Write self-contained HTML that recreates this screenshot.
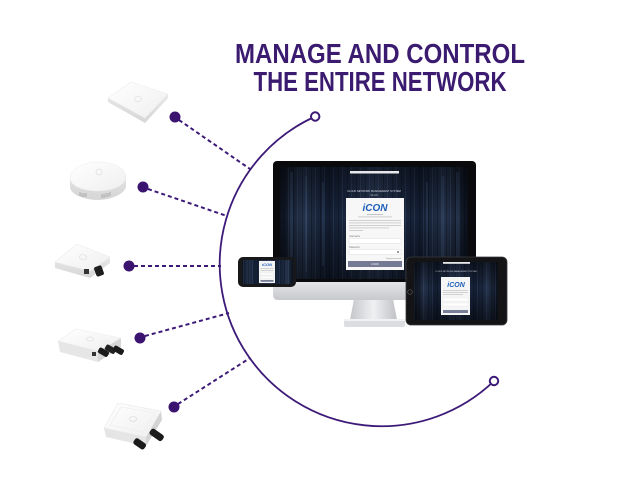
<!DOCTYPE html>
<html>
<head>
<meta charset="utf-8">
<style>
  html,body{margin:0;padding:0;background:#ffffff;}
  body{width:640px;height:480px;overflow:hidden;}
  svg{display:block;}
  text{font-family:"Liberation Sans",sans-serif;}
</style>
</head>
<body>
<svg width="640" height="480" viewBox="0 0 640 480" xmlns="http://www.w3.org/2000/svg">
  <defs>
    <linearGradient id="srv" x1="0" x2="1" y1="0" y2="0">
      <stop offset="0" stop-color="#0b111d"/>
      <stop offset="0.12" stop-color="#24324b"/>
      <stop offset="0.25" stop-color="#131e33"/>
      <stop offset="0.38" stop-color="#1c2942"/>
      <stop offset="0.5" stop-color="#2a3956"/>
      <stop offset="0.62" stop-color="#1c2942"/>
      <stop offset="0.75" stop-color="#131e33"/>
      <stop offset="0.88" stop-color="#24324b"/>
      <stop offset="1" stop-color="#0b111d"/>
    </linearGradient>
    <linearGradient id="srvV" x1="0" y1="0" x2="0" y2="1">
      <stop offset="0" stop-color="#000" stop-opacity="0.45"/>
      <stop offset="0.45" stop-color="#000" stop-opacity="0"/>
      <stop offset="1" stop-color="#000" stop-opacity="0.5"/>
    </linearGradient>
    <pattern id="rack" width="9" height="6" patternUnits="userSpaceOnUse">
      <rect width="1" height="6" fill="#6a82a4" opacity="0.18"/>
      <rect x="5" y="0" width="1" height="6" fill="#000" opacity="0.25"/>
    </pattern>
    <linearGradient id="chin" x1="0" y1="0" x2="0" y2="1">
      <stop offset="0" stop-color="#eceef0"/>
      <stop offset="1" stop-color="#c7c9cd"/>
    </linearGradient>
    <linearGradient id="neck" x1="0" y1="0" x2="1" y2="0">
      <stop offset="0" stop-color="#c4c6ca"/>
      <stop offset="0.5" stop-color="#eef0f2"/>
      <stop offset="1" stop-color="#bfc1c5"/>
    </linearGradient>
    <linearGradient id="apTop" x1="0" y1="0" x2="1" y2="1">
      <stop offset="0" stop-color="#ffffff"/>
      <stop offset="1" stop-color="#efefef"/>
    </linearGradient>
    <linearGradient id="apSide" x1="0" y1="0" x2="0" y2="1">
      <stop offset="0" stop-color="#e8e8e8"/>
      <stop offset="1" stop-color="#d6d6d6"/>
    </linearGradient>
  </defs>

  <!-- Title -->
  <text x="380" y="63" text-anchor="middle" font-size="28" font-weight="bold" fill="#3b1b70" textLength="290" lengthAdjust="spacingAndGlyphs">MANAGE AND CONTROL</text>
  <text x="380" y="91" text-anchor="middle" font-size="28" font-weight="bold" fill="#3b1b70" textLength="253" lengthAdjust="spacingAndGlyphs">THE ENTIRE NETWORK</text>

  <!-- Arc -->
  <path d="M315.2 116.5 A162 162 0 1 0 494 381" fill="none" stroke="#3d1a78" stroke-width="1.8"/>
  <circle cx="315.2" cy="116.5" r="4.2" fill="#fff" stroke="#3d1a78" stroke-width="2"/>
  <circle cx="494" cy="381" r="4.2" fill="#fff" stroke="#3d1a78" stroke-width="2"/>

  <!-- Dashed connectors -->
  <g stroke="#3d1a78" stroke-width="2" stroke-dasharray="4 3" fill="none">
    <line x1="179" y1="120" x2="250" y2="169"/>
    <line x1="148" y1="189" x2="227" y2="216"/>
    <line x1="134" y1="266" x2="221" y2="266"/>
    <line x1="145" y1="336" x2="229" y2="313"/>
    <line x1="178" y1="404" x2="250" y2="358"/>
  </g>
  <g fill="#3b1470">
    <circle cx="175" cy="117" r="5.5"/>
    <circle cx="143" cy="187" r="5.5"/>
    <circle cx="129" cy="266" r="5.5"/>
    <circle cx="140" cy="338" r="5.5"/>
    <circle cx="174" cy="407" r="5.5"/>
  </g>

  <!-- Device 1: flat ceiling AP -->
  <g>
    <polygon points="108,98 145,118 168,94 168,98 145,123 108,102" fill="url(#apSide)"/>
    <polygon points="108,98 131,82 168,94 145,118" fill="url(#apTop)" stroke="#ececec" stroke-width="0.6" stroke-linejoin="round"/>
    <ellipse cx="138" cy="99" rx="3.5" ry="2.5" fill="none" stroke="#e2e2e2" stroke-width="0.8"/>
  </g>

  <!-- Device 2: dome AP -->
  <g>
    <path d="M70 178 C70 169 84 162 98 162 C113 162 126 168 126 177 L126 186 C126 193 112 200 98 200 C84 200 70 194 70 187 Z" fill="url(#apSide)"/>
    <path d="M70 178 C70 169 84 162 98 162 C113 162 126 168 126 177 C126 185 112 191 98 191 C84 191 70 186 70 178 Z" fill="url(#apTop)" stroke="#ededed" stroke-width="0.5"/>
    <circle cx="99" cy="172" r="3" fill="none" stroke="#dedede" stroke-width="0.8"/>
    <g stroke="#a0a0a0" stroke-width="0.8">
      <line x1="80" y1="192" x2="80" y2="196"/><line x1="82" y1="193" x2="82" y2="197"/><line x1="84" y1="193" x2="84" y2="197"/><line x1="86" y1="193" x2="86" y2="197"/>
      <line x1="102" y1="194" x2="102" y2="198"/><line x1="104" y1="194" x2="104" y2="198"/><line x1="106" y1="193" x2="106" y2="197"/><line x1="108" y1="193" x2="108" y2="197"/><line x1="110" y1="192" x2="110" y2="196"/>
    </g>
  </g>

  <!-- Device 3: outdoor AP -->
  <g>
    <polygon points="55,262 90,271 110,257 110,263 90,278 55,268" fill="url(#apSide)"/>
    <polygon points="55,262 77,244 110,257 90,271" fill="url(#apTop)" stroke="#ececec" stroke-width="0.6" stroke-linejoin="round"/>
    <ellipse cx="83" cy="257" rx="3.5" ry="2.5" fill="none" stroke="#e0e0e0" stroke-width="0.8"/>
    <rect x="84" y="269" width="5" height="5" fill="#333"/>
    <rect x="95" y="266" width="8" height="10" rx="2" fill="#1d1d1d" transform="rotate(-20 99 271)"/>
  </g>

  <!-- Device 4: outdoor box AP -->
  <g>
    <polygon points="58,341 98,351 98,362 60,352" fill="#e6e6e6"/>
    <polygon points="98,351 121,338 121,347 98,362" fill="#d6d6d6"/>
    <polygon points="58,341 76,329 121,338 98,351" fill="url(#apTop)" stroke="#ececec" stroke-width="0.6" stroke-linejoin="round"/>
    <ellipse cx="90" cy="339" rx="3.5" ry="2" fill="none" stroke="#e0e0e0" stroke-width="0.8"/>
    <rect x="92" y="352" width="4" height="4" fill="#333"/>
    <rect x="100" y="347" width="6" height="11" rx="2" fill="#1a1a1a" transform="rotate(-60 103 352)"/>
    <rect x="107" y="344" width="6" height="11" rx="2" fill="#222" transform="rotate(-60 110 349)"/>
    <rect x="115" y="345" width="6" height="11" rx="2" fill="#1a1a1a" transform="rotate(-60 118 350)"/>
  </g>

  <!-- Device 5: outdoor square AP with antennas -->
  <g>
    <polygon points="104,428 146,437 146,446 106,437" fill="#e5e5e5"/>
    <polygon points="146,437 161,411 162,420 146,446" fill="#d4d4d4"/>
    <polygon points="104,428 118,403 161,411 146,437" fill="url(#apTop)" stroke="#e8e8e8" stroke-width="0.6" stroke-linejoin="round"/>
    <polygon points="110,425 121,407 155,413 143,432" fill="none" stroke="#efefef" stroke-width="0.8"/>
    <ellipse cx="133" cy="419" rx="3.5" ry="2.5" fill="none" stroke="#dcdcdc" stroke-width="0.8"/>
    <rect x="136" y="438" width="7" height="13" rx="2.5" fill="#1b1b1b" transform="rotate(-55 139 444)"/>
    <rect x="153" y="428" width="7" height="15" rx="2.5" fill="#1b1b1b" transform="rotate(-55 156 435)"/>
  </g>

  <!-- Monitor -->
  <g>
    <polygon points="354,299 393,299 397,320 350,320" fill="url(#neck)"/>
    <rect x="344" y="319" width="61" height="8" rx="2" fill="#dcdde0"/>
    <rect x="344" y="319" width="61" height="2" fill="#f1f2f3"/>
    <path d="M273 276 H476 V295 Q476 300 471 300 H278 Q273 300 273 295 Z" fill="url(#chin)"/>
    <rect x="273" y="161" width="203" height="121" rx="4" fill="#0a0a0c"/>
    <rect x="280" y="167" width="188" height="112" fill="url(#srv)"/>
    <rect x="280" y="167" width="188" height="112" fill="url(#rack)"/>
    <g fill="#5a7aa8" opacity="0.22">
      <rect x="290" y="172" width="3" height="104"/>
      <rect x="305" y="176" width="2" height="96"/>
      <rect x="322" y="182" width="2" height="84"/>
      <rect x="426" y="182" width="2" height="84"/>
      <rect x="442" y="176" width="2" height="96"/>
      <rect x="456" y="172" width="3" height="104"/>
    </g>
    <rect x="280" y="167" width="188" height="112" fill="url(#srvV)"/>
    <rect x="350" y="171" width="49" height="2.5" fill="#e8e8ea"/>
    <text x="374" y="192" text-anchor="middle" font-size="2.6" fill="#d8dce6">CLOUD NETWORK MANAGEMENT SYSTEM</text>
    <text x="374" y="196" text-anchor="middle" font-size="2.4" fill="#c8ccd6">V1.0.0</text>
    <rect x="346" y="198" width="58" height="72" fill="#f7f7f8"/>
    <text x="375" y="211" text-anchor="middle" font-size="10" font-weight="bold" font-style="italic" fill="#1d5fb8">iCON</text>
    <rect x="367" y="214" width="16" height="0.8" fill="#b8b8b8"/>
    <rect x="358" y="216.5" width="34" height="0.8" fill="#c4c4c4"/>
    <rect x="349" y="220" width="52" height="0.8" fill="#c6c6c6"/>
    <rect x="349" y="222.5" width="52" height="0.8" fill="#c6c6c6"/>
    <rect x="349" y="225" width="52" height="0.8" fill="#c6c6c6"/>
    <rect x="349" y="227.5" width="40" height="0.8" fill="#c6c6c6"/>
    <rect x="349" y="230" width="14" height="0.8" fill="#c6c6c6"/>
    <text x="349" y="237" font-size="2.4" fill="#777">Username</text>
    <rect x="349" y="238.5" width="52" height="5" fill="#fff" stroke="#dedede" stroke-width="0.5"/>
    <text x="349" y="248" font-size="2.4" fill="#777">Password</text>
    <rect x="349" y="249.5" width="52" height="5" fill="#fff" stroke="#dedede" stroke-width="0.5"/>
    <circle cx="398" cy="252" r="0.9" fill="#555"/>
    <text x="401" y="259" text-anchor="end" font-size="2" fill="#888">Forgot password</text>
    <rect x="348" y="261" width="54" height="6" fill="#757a94"/>
    <text x="375" y="265.2" text-anchor="middle" font-size="2.4" fill="#fff">LOGIN</text>
  </g>

  <!-- Phone -->
  <g>
    <rect x="238" y="257" width="58" height="30" rx="5" fill="#18181a"/>
    <rect x="242" y="260" width="51" height="24" fill="url(#srv)"/>
    <rect x="242" y="260" width="51" height="24" fill="url(#rack)"/>
    <rect x="259" y="261" width="16" height="22" fill="#f4f4f5"/>
    <text x="267" y="266" text-anchor="middle" font-size="4" font-weight="bold" font-style="italic" fill="#1d5fb8">iCON</text>
    <rect x="260.5" y="268" width="13" height="0.6" fill="#bbb"/>
    <rect x="260.5" y="270" width="13" height="0.6" fill="#bbb"/>
    <rect x="260.5" y="273" width="13" height="2" fill="#fff" stroke="#ddd" stroke-width="0.3"/>
    <rect x="260.5" y="276.5" width="13" height="2" fill="#fff" stroke="#ddd" stroke-width="0.3"/>
    <rect x="260.5" y="280" width="13" height="1.8" fill="#7a7f98"/>
  </g>

  <!-- Tablet -->
  <g>
    <rect x="406" y="257" width="101" height="68" rx="5" fill="#141416" stroke="#3a3a3e" stroke-width="0.8"/>
    <rect x="414" y="262" width="84" height="58" fill="url(#srv)"/>
    <rect x="414" y="262" width="84" height="58" fill="url(#rack)"/>
    <rect x="414" y="262" width="84" height="58" fill="url(#srvV)"/>
    <circle cx="410" cy="292" r="2.3" fill="none" stroke="#5a5a5e" stroke-width="0.7"/>
    <rect x="443" y="262" width="27" height="1.8" fill="#e8e8ea"/>
    <text x="456" y="272" text-anchor="middle" font-size="2" fill="#c8ccd6">CLOUD NETWORK MANAGEMENT SYSTEM</text>
    <rect x="441" y="277" width="29" height="38" fill="#f5f5f6"/>
    <text x="456" y="287" text-anchor="middle" font-size="7" font-weight="bold" font-style="italic" fill="#1d5fb8">iCON</text>
    <rect x="443" y="290" width="25" height="0.6" fill="#bbb"/>
    <rect x="443" y="292" width="25" height="0.6" fill="#bbb"/>
    <rect x="443" y="294" width="20" height="0.6" fill="#bbb"/>
    <rect x="443" y="298" width="25" height="3" fill="#fff" stroke="#ddd" stroke-width="0.3"/>
    <rect x="443" y="303" width="25" height="3" fill="#fff" stroke="#ddd" stroke-width="0.3"/>
    <rect x="443" y="310" width="25" height="3" fill="#7a7f98"/>
  </g>
</svg>
</body>
</html>
